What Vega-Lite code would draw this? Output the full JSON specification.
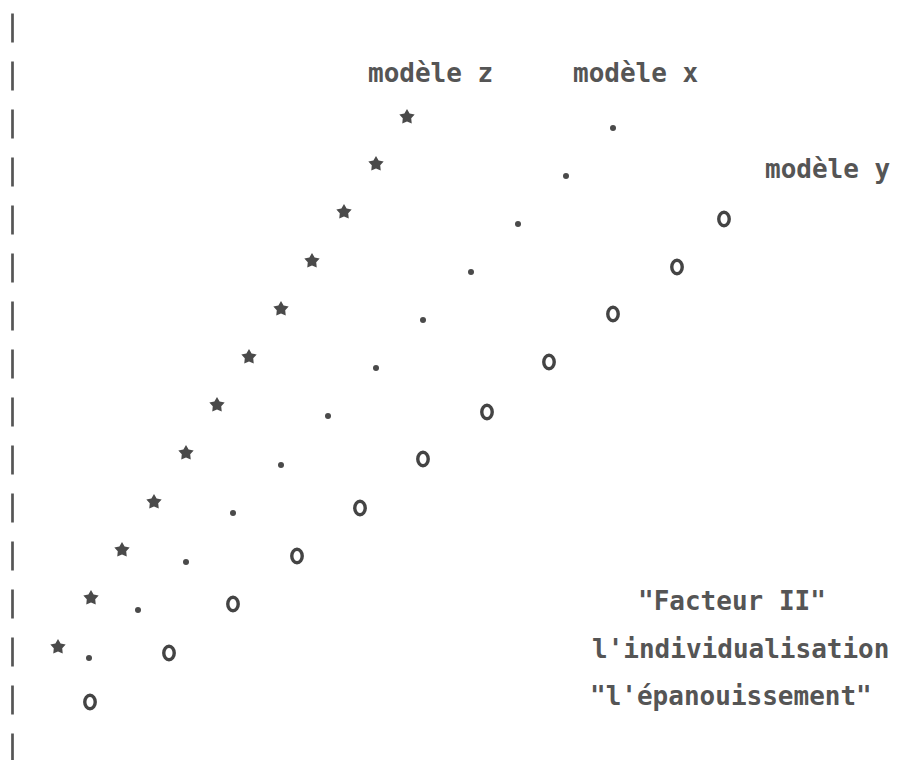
{
  "$schema": "https://vega.github.io/schema/vega-lite/v6.json",
  "width": 898,
  "height": 760,
  "autosize": {"type": "fit", "contains": "padding"},
  "padding": {"left": 12, "top": 0, "right": 0, "bottom": 0},
  "background": "white",
  "config": {"view": {"stroke": null}},
  "datasets": {
    "pts": [
      {"model": "z", "x": 4.6, "y": 11.3}, {"model": "z", "x": 7.9, "y": 16.2},
      {"model": "z", "x": 11.0, "y": 21.0}, {"model": "z", "x": 14.2, "y": 25.8},
      {"model": "z", "x": 17.4, "y": 30.7}, {"model": "z", "x": 20.5, "y": 35.5},
      {"model": "z", "x": 23.7, "y": 40.3}, {"model": "z", "x": 26.9, "y": 45.1},
      {"model": "z", "x": 30.0, "y": 49.9}, {"model": "z", "x": 33.2, "y": 54.8},
      {"model": "z", "x": 36.4, "y": 59.6}, {"model": "z", "x": 39.5, "y": 64.3},
      {"model": "x", "x": 7.7, "y": 10.2}, {"model": "x", "x": 12.6, "y": 15.0},
      {"model": "x", "x": 17.4, "y": 19.8}, {"model": "x", "x": 22.1, "y": 24.7},
      {"model": "x", "x": 26.9, "y": 29.5}, {"model": "x", "x": 31.6, "y": 34.4},
      {"model": "x", "x": 36.4, "y": 39.2}, {"model": "x", "x": 41.1, "y": 44.0},
      {"model": "x", "x": 45.9, "y": 48.8}, {"model": "x", "x": 50.6, "y": 53.6},
      {"model": "x", "x": 55.4, "y": 58.4}, {"model": "x", "x": 60.1, "y": 63.2},
      {"model": "y", "x": 7.8, "y": 5.8}, {"model": "y", "x": 15.7, "y": 10.7},
      {"model": "y", "x": 22.1, "y": 15.6}, {"model": "y", "x": 28.5, "y": 20.4},
      {"model": "y", "x": 34.8, "y": 25.2}, {"model": "y", "x": 41.1, "y": 30.1},
      {"model": "y", "x": 47.5, "y": 34.8}, {"model": "y", "x": 53.7, "y": 39.8},
      {"model": "y", "x": 60.1, "y": 44.6}, {"model": "y", "x": 66.5, "y": 49.3},
      {"model": "y", "x": 71.2, "y": 54.1}
    ],
    "labels": [
      {"label": "modèle z", "x": 35.6, "y": 67.8},
      {"label": "modèle x", "x": 56.1, "y": 67.8},
      {"label": "modèle y", "x": 75.3, "y": 58.2},
      {"label": "\"Facteur II\"", "x": 62.6, "y": 15.0},
      {"label": "l'individualisation", "x": 58.0, "y": 10.2},
      {"label": "\"l'épanouissement\"", "x": 57.8, "y": 5.5}
    ]
  },
  "layer": [
    {
      "data": {"name": "pts"},
      "transform": [{"filter": "datum.model === 'z'"}],
      "mark": {"type": "point", "filled": true, "color": "#4a4a4a", "opacity": 1,
        "shape": "M0,-1L0.323,-0.445L0.951,-0.309L0.523,0.17L0.588,0.809L0,0.55L-0.588,0.809L-0.523,0.17L-0.951,-0.309L-0.323,-0.445Z",
        "size": 260},
      "encoding": {
        "x": {"field": "x", "type": "quantitative", "scale": {"domain": [0, 88.6], "nice": false, "zero": false}, "axis": null},
        "y": {"field": "y", "type": "quantitative", "scale": {"domain": [0, 76], "nice": false, "zero": false},
          "axis": {"title": null, "labels": false, "ticks": false, "grid": false, "domain": true,
            "domainColor": "#555555", "domainWidth": 2.7, "domainDash": [29, 19], "domainDashOffset": 2}}
      }
    },
    {
      "data": {"name": "pts"},
      "transform": [{"filter": "datum.model === 'x'"}],
      "mark": {"type": "point", "filled": true, "color": "#4a4a4a", "opacity": 1, "shape": "circle", "size": 36},
      "encoding": {
        "x": {"field": "x", "type": "quantitative"},
        "y": {"field": "y", "type": "quantitative"}
      }
    },
    {
      "data": {"name": "pts"},
      "transform": [{"filter": "datum.model === 'y'"}],
      "mark": {"type": "point", "filled": false, "color": "#444444", "opacity": 1, "strokeWidth": 3.4,
        "shape": "M0,-1A0.78,1 0 1,1 0,1A0.78,1 0 1,1 0,-1Z", "size": 180},
      "encoding": {
        "x": {"field": "x", "type": "quantitative"},
        "y": {"field": "y", "type": "quantitative"}
      }
    },
    {
      "data": {"name": "labels"},
      "mark": {"type": "text", "align": "left", "baseline": "alphabetic", "font": "DejaVu Sans Mono", "fontSize": 26, "fontWeight": "bold", "color": "#555555"},
      "encoding": {
        "x": {"field": "x", "type": "quantitative"},
        "y": {"field": "y", "type": "quantitative"},
        "text": {"field": "label"}
      }
    }
  ]
}
